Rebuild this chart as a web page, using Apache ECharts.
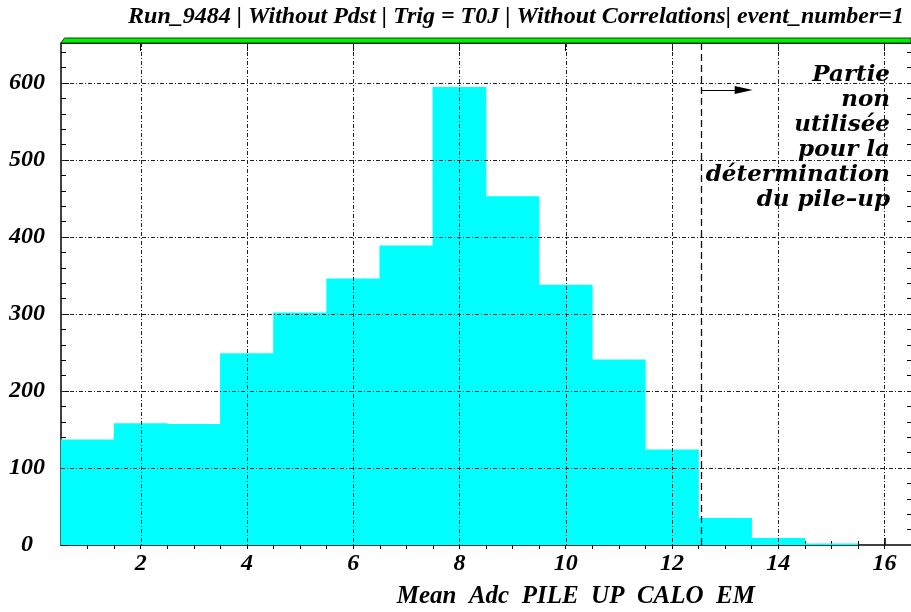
<!DOCTYPE html>
<html>
<head>
<meta charset="utf-8">
<title>Mean Adc PILE UP CALO EM</title>
<script src="https://cdn.jsdelivr.net/npm/echarts@6/dist/echarts.min.js"></script>
<style>
  html, body { margin: 0; padding: 0; background: #ffffff; }
  #chart { width: 911px; height: 612px; }
</style>
</head>
<body>
<div id="chart"></div>
<script>
// Histogram: bin centres (width 1) and entries per bin
const binCenters = [1, 2, 3, 4, 5, 6, 7, 8, 9, 10, 11, 12, 13, 14, 15, 16];
const binCounts  = [137, 158, 157, 249, 302, 346, 389, 595, 453, 338, 241, 124, 35, 9, 2, 0];
const binWidth = 1;

// Axis ticks and labels
const xMajorTicks = [2, 4, 6, 8, 10, 12, 14, 16];
const xMinorTicks = [1, 1.5, 2, 2.5, 3, 3.5, 4, 4.5, 5, 5.5, 6, 6.5, 7, 7.5, 8, 8.5,
                     9, 9.5, 10, 10.5, 11, 11.5, 12, 12.5, 13, 13.5, 14, 14.5, 15, 15.5, 16];
const yMajorTicks = [0, 100, 200, 300, 400, 500, 600];
const yMinorTicks = [20, 40, 60, 80, 100, 120, 140, 160, 180, 200, 220, 240, 260, 280, 300,
                     320, 340, 360, 380, 400, 420, 440, 460, 480, 500, 520, 540, 560, 580, 600,
                     620, 640];

// Cut used for the pile-up determination and its arrow
const cutValue = 12.55;
const arrowLevel = 591;
const arrowEnd = 13.35;

const titleText = 'Run_9484 | Without Pdst | Trig = T0J | Without Correlations| event_number=1';
const xTitle = 'Mean  Adc  PILE  UP  CALO  EM';
const noteLines = ['Partie', 'non', 'utilisée', 'pour la', 'détermination', 'du pile\u2013up'];

const histData = binCenters.map((c, i) => [c - binWidth / 2, c + binWidth / 2, binCounts[i]]);

const serif = '"Liberation Serif", "Times New Roman", serif';
const labelFont = { fontFamily: serif, fontStyle: 'italic', fontWeight: 'bold', fontSize: 24, color: '#000' };

const chart = echarts.init(document.getElementById('chart'));

const X_MIN = 0.5, X_MAX = 16.5, Y_MAX = 652;

function xAxisBase(extra) {
  return Object.assign({
    type: 'value', min: X_MIN, max: X_MAX, gridIndex: 0,
    axisLine: { show: false },
    axisLabel: { show: false },
    splitLine: { show: false },
    axisTick: { show: false }
  }, extra);
}
function yAxisBase(extra) {
  return Object.assign({
    type: 'value', min: 0, max: Y_MAX, gridIndex: 0,
    axisLine: { show: false },
    axisLabel: { show: false },
    splitLine: { show: false },
    axisTick: { show: false }
  }, extra);
}

function renderBin(params, api) {
  const p0 = api.coord([api.value(0), 0]);
  const p1 = api.coord([api.value(1), api.value(2)]);
  return {
    type: 'rect',
    shape: { x: p0[0] - 0.3, y: p1[1], width: p1[0] - p0[0] + 0.6, height: p0[1] - p1[1] },
    style: { fill: '#00ffff' }
  };
}

const frameBand = {
  id: 'band',
  type: 'polygon',
  z: 30,
  shape: { points: [[61, 43], [64.5, 38], [911, 38], [911, 43]] },
  style: { fill: '#00ee00', stroke: '#114411', lineWidth: 1 }
};
const noteText = {
  id: 'note',
  type: 'text',
  z: 30,
  x: 890,
  y: 63,
  style: {
    text: noteLines.join('\n'),
    align: 'right',
    verticalAlign: 'top',
    fontFamily: '"DejaVu Serif", serif',
    fontStyle: 'italic',
    fontWeight: 'bold',
    fontSize: 23,
    lineHeight: 25,
    fill: '#000'
  }
};

chart.setOption({
  animation: false,
  backgroundColor: '#ffffff',
  title: {
    text: titleText,
    right: 2,
    top: 0,
    textStyle: { fontFamily: serif, fontStyle: 'italic', fontWeight: 'bold', fontSize: 24, color: '#000' }
  },
  grid: { left: 61, right: 0, top: 43, bottom: 67 },
  xAxis: [
    // bottom: labels and major ticks
    xAxisBase({
      position: 'bottom',
      axisLine: { show: true, onZero: false, lineStyle: { color: '#000', width: 1.5 } },
      axisTick: { show: true, inside: true, length: 7, customValues: xMajorTicks, lineStyle: { color: '#000', width: 1.5 } },
      axisLabel: Object.assign({ show: true, customValues: xMajorTicks, margin: 7 }, labelFont),
      name: xTitle,
      nameLocation: 'end',
      nameGap: 0,
      nameTextStyle: {
        fontFamily: serif, fontStyle: 'italic', fontWeight: 'bold', fontSize: 25, color: '#000',
        align: 'right', verticalAlign: 'top', padding: [39, 156, 0, 0]
      }
    }),
    // bottom: minor ticks
    xAxisBase({
      position: 'bottom',
      axisTick: { show: true, inside: true, length: 4, customValues: xMinorTicks, lineStyle: { color: '#000', width: 1 } }
    }),
    // top frame: major ticks
    xAxisBase({
      position: 'top',
      axisLine: { show: true, onZero: false, lineStyle: { color: '#000', width: 1 } },
      axisTick: { show: true, inside: true, length: 8, customValues: xMajorTicks, lineStyle: { color: '#000', width: 1 } }
    }),
    // top frame: minor ticks
    xAxisBase({
      position: 'top',
      axisTick: { show: true, inside: true, length: 4, customValues: xMinorTicks, lineStyle: { color: '#000', width: 1 } }
    })
  ],
  yAxis: [
    // left: labels and major ticks
    yAxisBase({
      position: 'left',
      axisLine: { show: true, onZero: false, lineStyle: { color: '#000', width: 1.5 } },
      axisTick: { show: true, inside: true, length: 8, customValues: yMajorTicks, lineStyle: { color: '#000', width: 1 } },
      axisLabel: Object.assign({ show: true, customValues: yMajorTicks, margin: 34, align: 'center' }, labelFont)
    }),
    // left: minor ticks
    yAxisBase({
      position: 'left',
      axisTick: { show: true, inside: true, length: 5, customValues: yMinorTicks, lineStyle: { color: '#000', width: 1 } }
    }),
    // right frame
    yAxisBase({
      position: 'right',
      axisLine: { show: true, onZero: false, lineStyle: { color: '#000', width: 1 } },
      axisTick: { show: true, inside: true, length: 4, customValues: yMinorTicks, lineStyle: { color: '#000', width: 1 } }
    })
  ],
  series: [
    {
      type: 'custom',
      z: 2,
      data: histData,
      encode: { x: [0, 1], y: 2 },
      renderItem: renderBin,
      markLine: {
        silent: true,
        animation: false,
        label: { show: false },
        data: [
          [
            { coord: [cutValue, 0], symbol: 'none', lineStyle: { type: [7, 4], width: 1.3, color: '#111' } },
            { coord: [cutValue, Y_MAX], symbol: 'none' }
          ],
          [
            { coord: [cutValue, arrowLevel], symbol: 'none', lineStyle: { type: 'solid', width: 1.2, color: '#000' } },
            { coord: [arrowEnd, arrowLevel], symbol: 'triangle', symbolSize: [8, 18] }
          ]
        ],
        lineStyle: { color: '#000', width: 1.2 }
      }
    }
  ],
  graphic: [frameBand, noteText]
});

// Dash-dot grid at the major tick values, laid over the bars
function toX(v) { return chart.convertToPixel({ xAxisIndex: 0 }, v); }
function toY(v) { return chart.convertToPixel({ yAxisIndex: 0 }, v); }
const plotLeft = toX(X_MIN), plotRight = toX(X_MAX);
const plotTop = toY(Y_MAX), plotBottom = toY(0);
const gridStyle = { stroke: '#222', lineWidth: 1, lineDash: [4, 2, 1, 2], fill: null };
const gridElements = [];
xMajorTicks.forEach(function (t, i) {
  const px = Math.round(toX(t)) + 0.5;
  gridElements.push({
    id: 'gx' + i, type: 'line', z: 10, silent: true,
    shape: { x1: px, y1: plotTop, x2: px, y2: plotBottom },
    style: Object.assign({}, gridStyle)
  });
});
yMajorTicks.forEach(function (t, i) {
  if (t === 0) return;
  const py = Math.round(toY(t)) + 0.5;
  gridElements.push({
    id: 'gy' + i, type: 'line', z: 10, silent: true,
    shape: { x1: plotLeft, y1: py, x2: plotRight, y2: py },
    style: Object.assign({}, gridStyle)
  });
});
chart.setOption({ graphic: [frameBand, noteText].concat(gridElements) });
</script>
</body>
</html>
